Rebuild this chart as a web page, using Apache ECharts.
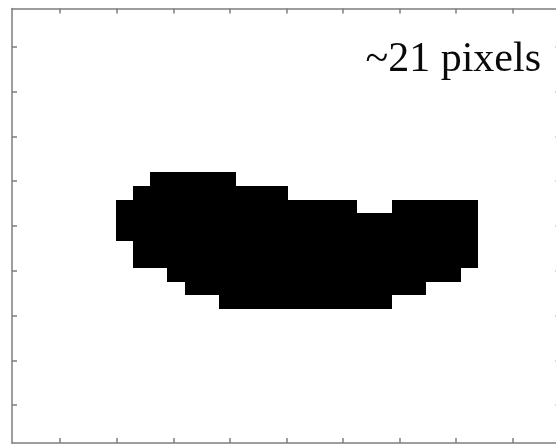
<!DOCTYPE html>
<html>
<head>
<meta charset="utf-8">
<script src="https://cdn.jsdelivr.net/npm/echarts@6/dist/echarts.min.js"></script>
<style>
  html, body { margin: 0; padding: 0; background: #fff; }
  #chart { width: 556px; height: 444px; }
</style>
</head>
<body>
<div id="chart"></div>
<script>
// Extent of the pixel grid, in cell units (columns / rows)
const colRange = [0, 31.8];
const rowRange = [0, 31.8];

// Tick positions along each axis, in cell units
const xTicks = [2.79, 6.07, 9.35, 12.63, 15.91, 19.19, 22.47, 25.75, 29.03];
const yTicks = [2.79, 6.07, 9.35, 12.63, 15.91, 19.19, 22.47, 25.75, 29.03];

// Foreground pixels of the mask, stored as horizontal runs:
// run i covers row runRows[i], columns runStart[i] .. runEnd[i] (inclusive)
const runRows  = [12, 13, 14, 14, 15, 16, 17, 18, 19, 20, 21];
const runStart = [ 8,  7,  6, 22,  6,  6,  7,  7,  9, 10, 12];
const runEnd   = [12, 15, 19, 26, 26, 26, 26, 26, 25, 23, 21];

const annotation = '~21 pixels';

const runs = runRows.map((r, i) => [r, runStart[i], runEnd[i]]);

const frameLine = { color: '#7d7d7d', width: 1.5 };

function makeXAxis(position) {
  return {
    type: 'value',
    position: position,
    min: colRange[0],
    max: colRange[1],
    axisLine: { show: true, onZero: false, lineStyle: frameLine },
    axisTick: { show: true, inside: true, length: 5, customValues: xTicks, lineStyle: frameLine },
    axisLabel: { show: false },
    splitLine: { show: false }
  };
}

function makeYAxis(position) {
  return {
    type: 'value',
    position: position,
    inverse: true,
    min: rowRange[0],
    max: rowRange[1],
    axisLine: { show: true, onZero: false, lineStyle: frameLine },
    axisTick: { show: true, inside: true, length: 5, customValues: yTicks, lineStyle: frameLine },
    axisLabel: { show: false },
    splitLine: { show: false }
  };
}

const chart = echarts.init(document.getElementById('chart'), null, { renderer: 'canvas' });

chart.setOption({
  animation: false,
  backgroundColor: '#ffffff',
  grid: {
    left: 12,
    top: 8.5,
    width: 548.6,
    height: 434.5,
    outerBoundsMode: 'none'
  },
  xAxis: [makeXAxis('bottom'), makeXAxis('top')],
  yAxis: [makeYAxis('left'), makeYAxis('right')],
  series: [{
    type: 'custom',
    xAxisIndex: 0,
    yAxisIndex: 0,
    data: runs,
    encode: { x: [1, 2], y: 0 },
    renderItem: function (params, api) {
      const row = api.value(0);
      const c0 = api.value(1);
      const c1 = api.value(2);
      const p0 = api.coord([c0, row]);
      const p1 = api.coord([c1 + 1, row + 1]);
      // snap cell edges to whole pixels so stacked runs share edges cleanly
      const x0 = Math.round(Math.min(p0[0], p1[0]));
      const x1 = Math.round(Math.max(p0[0], p1[0]));
      const y0 = Math.round(Math.min(p0[1], p1[1]));
      const y1 = Math.round(Math.max(p0[1], p1[1]));
      return {
        type: 'rect',
        shape: { x: x0, y: y0, width: x1 - x0, height: y1 - y0 },
        style: { fill: '#000000' }
      };
    }
  }],
  graphic: [{
    type: 'text',
    x: 541,
    y: 60,
    style: {
      text: annotation,
      font: '42px "Liberation Serif", serif',
      fill: '#0a0a0a',
      align: 'right',
      verticalAlign: 'middle'
    }
  }]
});
</script>
</body>
</html>
